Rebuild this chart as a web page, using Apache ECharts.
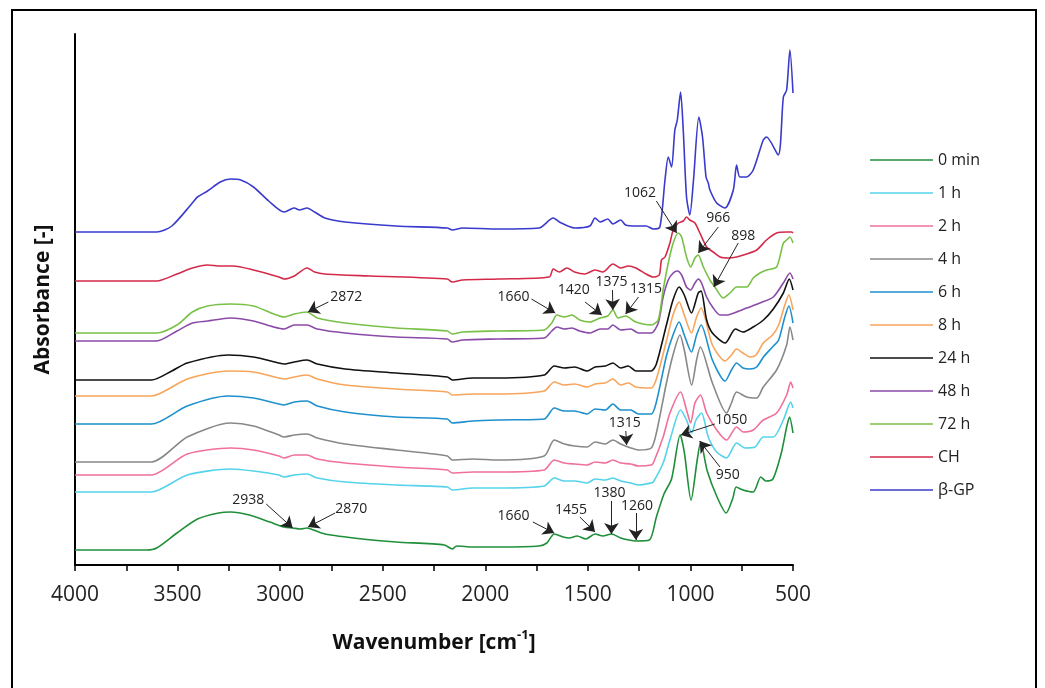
<!DOCTYPE html>
<html>
<head>
<meta charset="utf-8">
<script src="https://cdn.jsdelivr.net/npm/echarts@6/dist/echarts.min.js"></script>
<style>
  html, body { margin: 0; padding: 0; background: #fff; }
  #box { width: 1045px; height: 688px; }
</style>
</head>
<body>
<div id="box"></div>
<script>
// spectra: [wavenumber, absorbance (offset, a.u.)]
var s0min = [[4000,0.15],[3650,0.15],[3602,0.17],[3503,0.32],[3403,0.46],[3300,0.52],[3242,0.53],[3150,0.50],[3050,0.43],[2981,0.38],[2938,0.37],[2900,0.36],[2870,0.37],[2850,0.36],[2782,0.31],[2600,0.26],[2434,0.23],[2200,0.20],[2161,0.16],[2140,0.19],[2061,0.18],[1937,0.18],[1738,0.19],[1700,0.22],[1664,0.31],[1620,0.28],[1590,0.27],[1552,0.29],[1510,0.26],[1465,0.31],[1427,0.29],[1385,0.31],[1340,0.27],[1300,0.25],[1266,0.24],[1200,0.25],[1166,0.48],[1129,0.71],[1092,0.86],[1050,1.30],[1030,1.13],[997,0.65],[967,1.05],[950,1.23],[918,0.94],[868,0.67],[826,0.52],[793,0.67],[777,0.78],[744,0.75],[694,0.73],[657,0.88],[632,0.84],[598,0.86],[557,1.12],[531,1.38],[517,1.48],[500,1.32]];
var s1h = [[4000,0.73],[3627,0.73],[3453,0.90],[3242,0.96],[3130,0.94],[3006,0.90],[2981,0.88],[2931,0.90],[2869,0.91],[2819,0.87],[2683,0.83],[2434,0.80],[2185,0.78],[2161,0.75],[2061,0.77],[1937,0.77],[1713,0.79],[1664,0.87],[1614,0.84],[1565,0.84],[1503,0.82],[1465,0.86],[1415,0.85],[1378,0.87],[1340,0.84],[1291,0.82],[1253,0.80],[1191,0.82],[1181,0.83],[1133,1.02],[1100,1.25],[1048,1.55],[1019,1.45],[994,1.32],[973,1.45],[946,1.52],[913,1.28],[872,1.13],[824,1.07],[775,1.22],[734,1.17],[685,1.18],[645,1.28],[596,1.28],[547,1.45],[511,1.63],[500,1.57]];
var s2h = [[4000,0.90],[3627,0.90],[3453,1.11],[3242,1.17],[3130,1.15],[3006,1.09],[2981,1.07],[2931,1.10],[2869,1.10],[2819,1.06],[2683,1.02],[2434,0.98],[2185,0.95],[2161,0.92],[2061,0.93],[1937,0.93],[1713,0.95],[1664,1.05],[1614,1.02],[1565,1.01],[1503,1.00],[1465,1.03],[1415,1.02],[1378,1.05],[1340,1.02],[1291,1.01],[1253,0.99],[1191,1.00],[1181,1.02],[1133,1.28],[1100,1.52],[1048,1.73],[1019,1.55],[999,1.42],[978,1.62],[951,1.70],[921,1.52],[872,1.35],[824,1.25],[775,1.38],[742,1.33],[694,1.35],[645,1.45],[580,1.52],[531,1.70],[511,1.83],[500,1.77]];
var s4h = [[4000,1.03],[3627,1.03],[3453,1.28],[3242,1.42],[3130,1.39],[3006,1.30],[2981,1.28],[2931,1.30],[2869,1.31],[2819,1.27],[2683,1.21],[2434,1.15],[2185,1.09],[2161,1.05],[2061,1.06],[1937,1.05],[1713,1.09],[1664,1.25],[1614,1.21],[1565,1.19],[1503,1.18],[1465,1.23],[1415,1.21],[1378,1.25],[1340,1.21],[1291,1.17],[1253,1.15],[1191,1.17],[1166,1.32],[1117,1.82],[1085,2.10],[1051,2.30],[1030,2.15],[994,1.80],[970,2.05],[952,2.18],[893,1.82],[824,1.52],[800,1.62],[775,1.73],[726,1.68],[677,1.67],[645,1.78],[580,1.95],[531,2.20],[515,2.38],[500,2.25]];
var s6h = [[4000,1.41],[3627,1.41],[3453,1.59],[3254,1.69],[3130,1.67],[3006,1.61],[2981,1.60],[2931,1.63],[2869,1.64],[2819,1.59],[2683,1.53],[2434,1.48],[2185,1.46],[2161,1.42],[2061,1.44],[1937,1.45],[1713,1.46],[1664,1.57],[1614,1.54],[1565,1.54],[1503,1.51],[1465,1.56],[1415,1.55],[1378,1.61],[1340,1.55],[1291,1.55],[1253,1.51],[1191,1.51],[1166,1.63],[1117,2.09],[1085,2.30],[1055,2.43],[1030,2.30],[995,2.13],[970,2.30],[948,2.40],[893,2.05],[831,1.84],[800,1.95],[775,2.02],[744,1.97],[710,1.96],[677,1.98],[644,2.08],[600,2.18],[570,2.25],[540,2.48],[520,2.59],[500,2.42]];
var s8h = [[4000,1.69],[3627,1.69],[3453,1.86],[3254,1.94],[3130,1.93],[3006,1.87],[2981,1.86],[2931,1.88],[2869,1.90],[2819,1.86],[2683,1.80],[2434,1.76],[2185,1.73],[2161,1.70],[2061,1.71],[1937,1.71],[1713,1.74],[1664,1.83],[1614,1.80],[1565,1.81],[1503,1.78],[1465,1.81],[1415,1.82],[1378,1.86],[1340,1.80],[1303,1.82],[1266,1.78],[1191,1.77],[1166,1.86],[1117,2.24],[1085,2.50],[1055,2.63],[1030,2.50],[995,2.32],[970,2.48],[948,2.57],[893,2.20],[831,2.04],[800,2.10],[775,2.16],[744,2.12],[710,2.08],[680,2.10],[645,2.22],[600,2.30],[570,2.40],[540,2.60],[520,2.70],[500,2.55]];
var s24h = [[4000,1.85],[3627,1.85],[3528,1.94],[3453,2.02],[3254,2.10],[3130,2.08],[3006,2.02],[2981,2.01],[2931,2.03],[2869,2.05],[2819,2.01],[2683,1.96],[2434,1.92],[2185,1.88],[2161,1.85],[2061,1.87],[1937,1.87],[1713,1.90],[1664,1.99],[1614,1.97],[1565,1.98],[1503,1.94],[1465,1.98],[1415,1.99],[1378,2.02],[1340,1.97],[1303,1.99],[1266,1.94],[1191,1.94],[1166,2.01],[1117,2.40],[1085,2.65],[1055,2.78],[1030,2.70],[995,2.52],[962,2.72],[948,2.74],[921,2.45],[893,2.32],[831,2.22],[781,2.36],[744,2.33],[694,2.38],[644,2.45],[596,2.56],[547,2.72],[518,2.86],[500,2.75]];
var s48h = [[4000,2.24],[3602,2.24],[3503,2.34],[3428,2.42],[3354,2.44],[3242,2.47],[3130,2.44],[3031,2.38],[2981,2.36],[2931,2.40],[2869,2.40],[2819,2.36],[2683,2.32],[2434,2.28],[2185,2.26],[2161,2.23],[2111,2.25],[1937,2.26],[1713,2.27],[1676,2.34],[1651,2.38],[1614,2.36],[1577,2.37],[1540,2.34],[1490,2.32],[1440,2.36],[1403,2.36],[1378,2.40],[1340,2.35],[1291,2.36],[1253,2.32],[1191,2.32],[1157,2.42],[1133,2.68],[1108,2.85],[1084,2.92],[1064,2.94],[1043,2.90],[1019,2.78],[999,2.75],[978,2.82],[962,2.86],[946,2.82],[921,2.68],[889,2.57],[856,2.50],[824,2.50],[775,2.53],[726,2.57],[661,2.62],[596,2.68],[547,2.82],[515,2.92],[500,2.86]];
var s72h = [[4000,2.32],[3602,2.32],[3503,2.40],[3428,2.53],[3354,2.59],[3242,2.61],[3130,2.59],[3031,2.51],[2981,2.48],[2931,2.51],[2869,2.53],[2819,2.47],[2683,2.42],[2434,2.37],[2185,2.34],[2161,2.31],[2111,2.33],[1937,2.34],[1713,2.35],[1676,2.42],[1651,2.50],[1614,2.48],[1577,2.50],[1540,2.45],[1490,2.43],[1440,2.47],[1403,2.49],[1378,2.55],[1353,2.47],[1316,2.49],[1266,2.43],[1191,2.40],[1157,2.45],[1133,2.75],[1108,3.02],[1084,3.22],[1059,3.32],[1043,3.28],[1019,3.08],[999,2.98],[978,3.07],[962,3.10],[937,2.98],[905,2.85],[881,2.78],[840,2.67],[807,2.72],[775,2.78],[726,2.78],[694,2.87],[661,2.92],[629,2.95],[580,2.98],[547,3.22],[531,3.25],[515,3.28],[500,3.22]];
var sCH = [[4000,2.84],[3602,2.84],[3503,2.91],[3428,2.97],[3354,3.00],[3292,2.99],[3230,2.99],[3130,2.95],[3006,2.88],[2981,2.86],[2931,2.89],[2869,2.97],[2832,2.93],[2782,2.91],[2558,2.89],[2185,2.86],[2161,2.83],[2111,2.85],[1937,2.86],[1688,2.88],[1669,2.96],[1639,2.93],[1602,2.97],[1565,2.93],[1515,2.91],[1465,2.95],[1427,2.93],[1378,3.01],[1340,2.97],[1303,2.99],[1266,2.97],[1216,2.91],[1181,2.88],[1152,2.90],[1141,3.05],[1124,3.08],[1100,3.22],[1084,3.35],[1059,3.42],[1035,3.44],[1019,3.48],[1003,3.45],[978,3.42],[954,3.32],[921,3.18],[889,3.13],[856,3.08],[816,3.07],[775,3.08],[726,3.11],[677,3.15],[629,3.25],[580,3.32],[531,3.33],[507,3.33],[500,3.32]];
var sGP = [[4000,3.33],[3800,3.33],[3602,3.33],[3528,3.39],[3428,3.62],[3403,3.68],[3354,3.74],[3292,3.83],[3242,3.86],[3192,3.85],[3130,3.78],[3056,3.64],[2981,3.53],[2956,3.55],[2931,3.57],[2906,3.55],[2869,3.57],[2832,3.53],[2782,3.47],[2683,3.43],[2434,3.39],[2185,3.37],[2161,3.35],[2111,3.37],[1937,3.36],[1738,3.37],[1669,3.47],[1639,3.43],[1565,3.37],[1490,3.39],[1465,3.47],[1440,3.43],[1403,3.46],[1378,3.41],[1340,3.45],[1316,3.40],[1266,3.39],[1216,3.39],[1181,3.36],[1149,3.38],[1124,3.85],[1108,4.08],[1092,3.98],[1076,4.35],[1064,4.45],[1048,4.73],[1035,4.35],[1019,3.68],[1003,3.50],[985,3.85],[959,4.48],[941,4.28],[924,3.88],[913,3.82],[905,3.75],[872,3.62],[832,3.57],[791,3.75],[775,4.00],[759,3.88],[726,3.88],[694,3.95],[645,4.25],[629,4.28],[572,4.10],[547,4.68],[531,4.75],[515,5.15],[500,4.72]];

var seriesNames = ['0 min', '1 h', '2 h', '4 h', '6 h', '8 h', '24 h', '48 h', '72 h', 'CH', 'β-GP'];
var seriesData = [s0min, s1h, s2h, s4h, s6h, s8h, s24h, s48h, s72h, sCH, sGP];
var seriesColors = ['#1f8f3a', '#55d3ea', '#f0709a', '#888888', '#1e90cc', '#f8a55c', '#111111', '#8a4aa8', '#78c046', '#d42a4a', '#3a3acc'];

// peak labels: [text, text pos (wn, A), arrow start (wn, A), arrow tip (wn, A)]
var annotations = [
  ['2938', 3155, 0.65, 3068, 0.61, 2939, 0.37],
  ['2870', 2653, 0.555, 2732, 0.52, 2864, 0.38],
  ['1660', 1862, 0.49, 1768, 0.43, 1664, 0.32],
  ['1455', 1582, 0.547, 1539, 0.48, 1465, 0.33],
  ['1380', 1395, 0.716, 1385, 0.64, 1385, 0.31],
  ['1260', 1261, 0.593, 1266, 0.52, 1266, 0.25],
  ['1050', 801, 1.445, 881, 1.41, 1047, 1.30],
  ['950', 818, 0.90, 856, 0.98, 955, 1.24],
  ['1315', 1320, 1.418, 1315, 1.34, 1311, 1.20],
  ['2872', 2678, 2.683, 2765, 2.63, 2864, 2.53],
  ['1660', 1862, 2.675, 1775, 2.66, 1659, 2.52],
  ['1420', 1569, 2.748, 1514, 2.63, 1432, 2.50],
  ['1375', 1385, 2.825, 1380, 2.75, 1378, 2.55],
  ['1315', 1216, 2.756, 1253, 2.68, 1316, 2.51],
  ['1062', 1246, 3.72, 1166, 3.64, 1067, 3.32],
  ['966', 864, 3.47, 864, 3.38, 962, 3.12],
  ['898', 742, 3.29, 767, 3.22, 886, 2.78]
];

var FONT = '"Open Sans", "Noto Sans", sans-serif';
var myChart = echarts.init(document.getElementById('box'));

var series = [];
for (var i = 0; i < seriesNames.length; i++) {
  series.push({
    name: seriesNames[i],
    type: 'line',
    data: seriesData[i],
    symbol: 'none',
    showSymbol: false,
    smooth: 0.25,
    lineStyle: { width: 1.6, color: seriesColors[i] },
    itemStyle: { color: seriesColors[i] },
    animation: false,
    silent: true
  });
}

// arrows + texts on an extra series
var arrowLines = [];
var arrowTexts = [];
for (var j = 0; j < annotations.length; j++) {
  var a = annotations[j];
  arrowLines.push([{ coord: [a[3], a[4]] }, { coord: [a[5], a[6]] }]);
  arrowTexts.push({ coord: [a[1], a[2]], value: a[0] });
}
series.push({
  name: 'notes',
  type: 'line',
  data: [],
  silent: true,
  animation: false,
  markLine: {
    silent: true,
    animation: false,
    symbol: ['none', 'arrow'],
    symbolSize: 11,
    label: { show: false },
    lineStyle: { color: '#222', width: 1, type: 'solid' },
    itemStyle: { color: '#111' },
    emphasis: { disabled: true },
    data: arrowLines
  },
  markPoint: {
    silent: true,
    animation: false,
    symbol: 'circle',
    symbolSize: 1,
    itemStyle: { color: 'rgba(0,0,0,0)' },
    label: {
      show: true,
      position: 'inside',
      color: '#222',
      fontSize: 14,
      fontFamily: FONT,
      formatter: '{c}'
    },
    data: arrowTexts
  }
});

var option = {
  backgroundColor: '#fff',
  animation: false,
  graphic: [{
    type: 'rect',
    silent: true,
    z: -1,
    shape: { x: 12, y: 10, width: 1024, height: 700 },
    style: { fill: 'none', stroke: '#000', lineWidth: 2 }
  }],
  grid: { left: 75, top: 34, right: 252, bottom: 123 },
  legend: {
    data: seriesNames,
    orient: 'vertical',
    left: 865,
    top: 147,
    itemWidth: 63,
    itemHeight: 14,
    itemGap: 17,
    icon: 'path://M0,6 L63,6 L63,7.5 L0,7.5 Z',
    textStyle: { fontSize: 16, color: '#222', fontFamily: FONT }
  },
  xAxis: {
    type: 'value',
    inverse: true,
    min: 500,
    max: 4000,
    interval: 500,
    name: '{n|Wavenumber [cm}{s|-1}{n|]}',
    nameLocation: 'middle',
    nameGap: 64,
    nameTextStyle: {
      rich: {
        n: { fontSize: 21, fontWeight: 'bold', color: '#111', fontFamily: FONT, lineHeight: 28 },
        s: { fontSize: 13, fontWeight: 'bold', color: '#111', fontFamily: FONT, verticalAlign: 'top', lineHeight: 16 }
      }
    },
    axisLine: { lineStyle: { color: '#000', width: 2 } },
    axisTick: { length: 6, lineStyle: { color: '#000', width: 1.5 } },
    minorTick: { show: true, splitNumber: 2, length: 6, lineStyle: { color: '#000', width: 1.5 } },
    splitLine: { show: false },
    minorSplitLine: { show: false },
    axisLabel: {
      fontSize: 21, color: '#222', fontFamily: FONT, margin: 20,
      formatter: function (v) { return String(v); }
    }
  },
  yAxis: {
    type: 'value',
    min: 0,
    max: 5.31,
    name: 'Absorbance [-]',
    nameLocation: 'middle',
    nameRotate: 90,
    nameGap: 21,
    nameTextStyle: { fontSize: 21, fontWeight: 'bold', color: '#111', fontFamily: FONT },
    axisLine: { show: true, lineStyle: { color: '#000', width: 2 } },
    axisTick: { show: false },
    axisLabel: { show: false },
    splitLine: { show: false }
  },
  series: series
};

myChart.setOption(option);
</script>
</body>
</html>
